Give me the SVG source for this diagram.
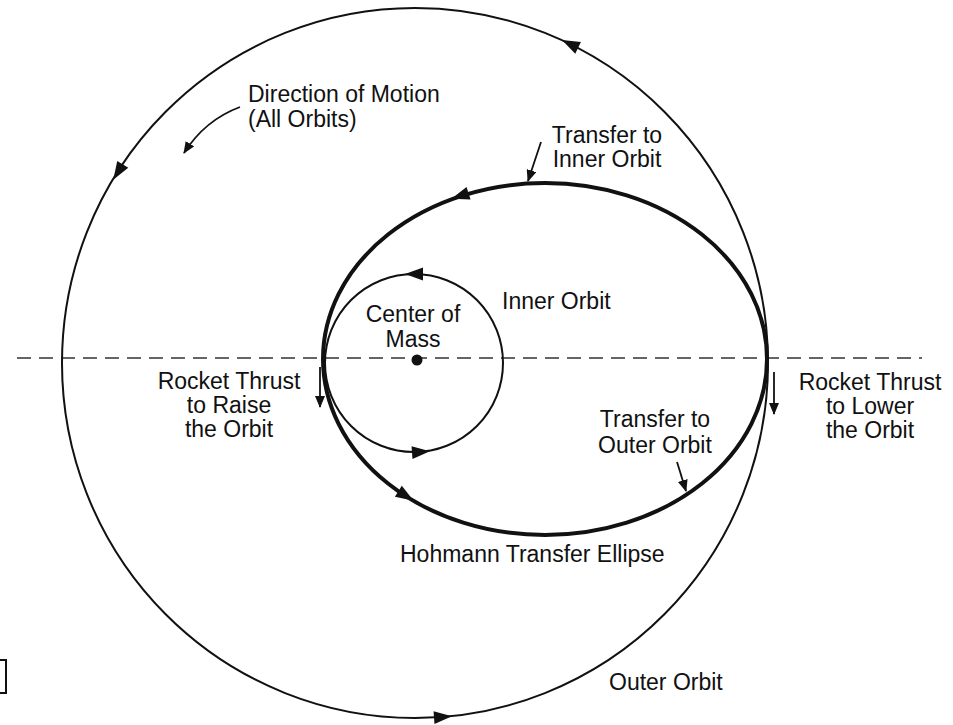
<svg xmlns="http://www.w3.org/2000/svg" width="953" height="725" viewBox="0 0 953 725">
<style>
text{font-family:"Liberation Sans",Arial,sans-serif;font-size:23px;fill:#111}
.c{text-anchor:middle}
.orbit{fill:none;stroke:#111;stroke-width:2}
.thick{fill:none;stroke:#111;stroke-width:4}
.ptr{fill:none;stroke:#111;stroke-width:1.8}
.ah{fill:#111}
</style>
<defs>
<polygon id="tri" points="9,0 -9,-6.5 -9,6.5"/>
<marker id="head" viewBox="0 0 12 10" refX="11" refY="5" markerWidth="12" markerHeight="10" markerUnits="userSpaceOnUse" orient="auto"><path d="M0,0 L12,5 L0,10 Z" fill="#111"/></marker>
</defs>
<rect width="953" height="725" fill="#fff"/>
<g id="axis"><line x1="17" y1="358" x2="922" y2="358" stroke="#333" stroke-width="1.6" stroke-dasharray="14 8"/></g>
<g id="outer-orbit">
<ellipse class="orbit" cx="415" cy="363" rx="353" ry="355"/>
<use href="#tri" class="ah" transform="translate(570,44) rotate(206)"/>
<use href="#tri" class="ah" transform="translate(118,172) rotate(122)"/>
<use href="#tri" class="ah" transform="translate(443,717) rotate(-4)"/>
</g>
<g id="transfer-ellipse">
<ellipse class="thick" cx="545" cy="359" rx="222" ry="176"/>
<use href="#tri" class="ah" transform="translate(460,196) rotate(162)"/>
<use href="#tri" class="ah" transform="translate(406,496) rotate(32)"/>
</g>
<g id="inner-orbit">
<circle class="orbit" cx="414" cy="363" r="89"/>
<use href="#tri" class="ah" transform="translate(414,274) rotate(180)"/>
<use href="#tri" class="ah" transform="translate(421,452) rotate(-4)"/>
</g>
<g id="center-of-mass"><circle cx="417" cy="360" r="5.5" fill="#111"/></g>
<g id="connectors">
<path class="ptr" d="M240,107 Q205,120 184,153" marker-end="url(#head)"/>
<line class="ptr" x1="541" y1="142" x2="528" y2="181" marker-end="url(#head)"/>
<line class="ptr" x1="677" y1="462" x2="686" y2="491" marker-end="url(#head)"/>
<line class="ptr" x1="320" y1="367" x2="320" y2="407" marker-end="url(#head)"/>
<line class="ptr" x1="774" y1="372" x2="774" y2="414" marker-end="url(#head)"/>
</g>
<g id="bracket"><path d="M0,660 H6 V693 H0" fill="none" stroke="#111" stroke-width="2"/></g>
<g id="labels">
<text x="248" y="102">Direction of Motion</text>
<text x="248" y="127">(All Orbits)</text>
<text class="c" x="607" y="143">Transfer to</text>
<text class="c" x="607" y="167">Inner Orbit</text>
<text x="502" y="309">Inner Orbit</text>
<text class="c" x="413" y="322">Center of</text>
<text class="c" x="413" y="347">Mass</text>
<text class="c" x="229" y="389">Rocket Thrust</text>
<text class="c" x="229" y="413">to Raise</text>
<text class="c" x="229" y="437">the Orbit</text>
<text class="c" x="870" y="390">Rocket Thrust</text>
<text class="c" x="870" y="414">to Lower</text>
<text class="c" x="870" y="438">the Orbit</text>
<text class="c" x="655" y="427">Transfer to</text>
<text class="c" x="655" y="453">Outer Orbit</text>
<text x="400" y="562">Hohmann Transfer Ellipse</text>
<text x="609" y="690">Outer Orbit</text>
</g>
</svg>
